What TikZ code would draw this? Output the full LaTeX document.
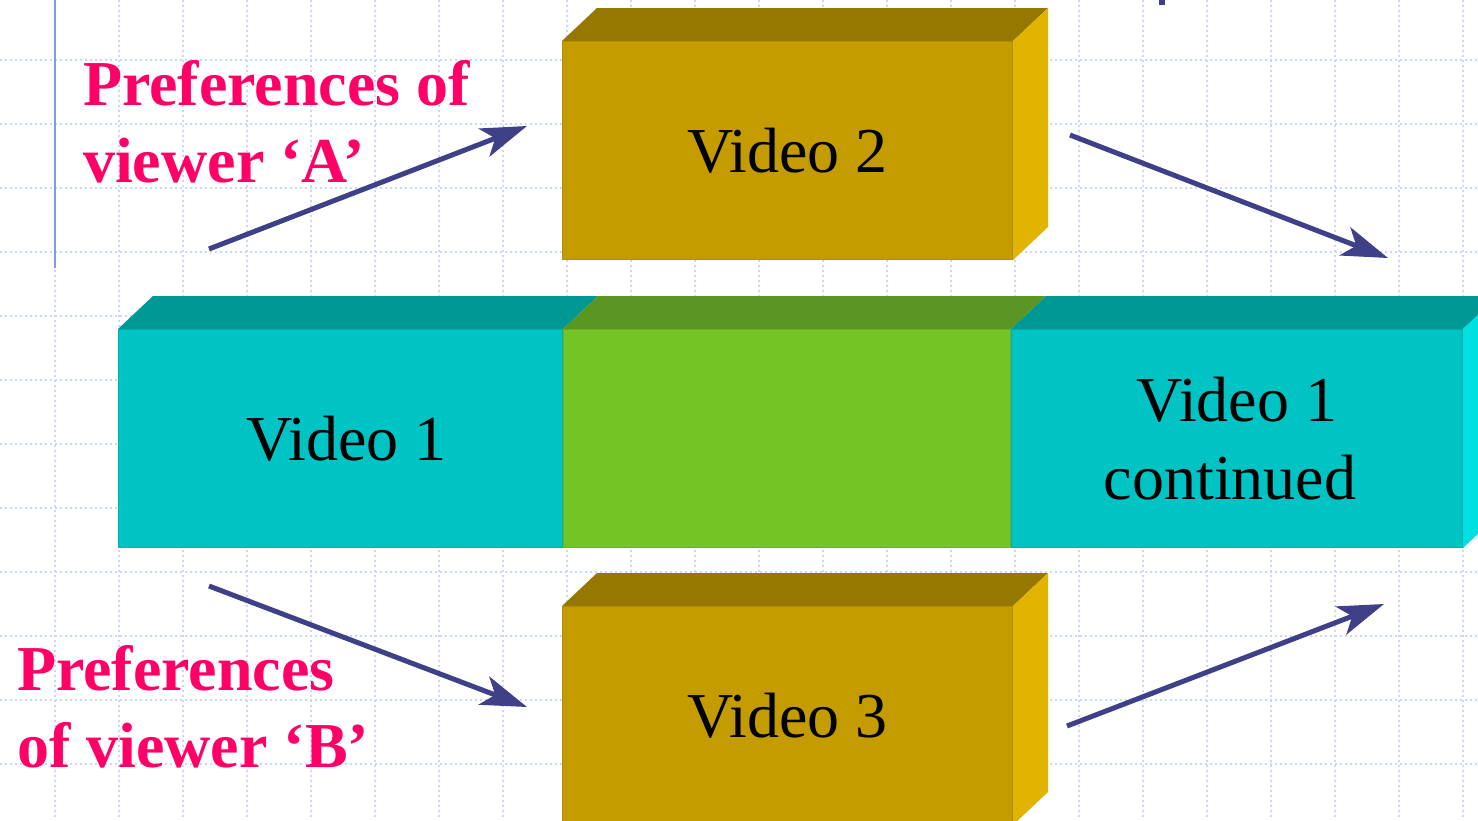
\documentclass[tikz,border=0pt]{standalone}
\usepackage{fontspec}
\setmainfont{Liberation Serif}
\usepackage{xcolor}
\usetikzlibrary{arrows.meta, positioning, calc}
\definecolor{vdGold}{RGB}{196,156,0}
\definecolor{vdGoldTop}{RGB}{150,120,0}
\definecolor{vdGoldSide}{RGB}{224,180,0}
\definecolor{vdCyan}{RGB}{0,196,196}
\definecolor{vdCyanTop}{RGB}{0,152,148}
\definecolor{vdCyanSide}{RGB}{0,224,224}
\definecolor{vdGreen}{RGB}{116,196,38}
\definecolor{vdGreenTop}{RGB}{92,150,34}
\definecolor{vdPink}{RGB}{255,0,102}
\definecolor{vdArrow}{RGB}{64,64,136}
\definecolor{vdGrid}{RGB}{200,214,248}
\definecolor{vdRule}{RGB}{128,152,240}

\begin{document}
\begin{tikzpicture}[x=1pt,y=-1pt,
  gridline/.style={draw=vdGrid,line width=1.5pt,dash pattern=on 2pt off 3pt},
  face/.style={anchor=north west,minimum height=218pt,inner sep=0pt,
               align=center,line width=1pt,
               font=\fontsize{64}{78}\selectfont},
  pref/.style={anchor=base west,inner sep=0pt,align=left,text=vdPink,
               font=\fontsize{64}{77}\selectfont\bfseries},
  flow/.style={draw=vdArrow,line width=5pt,
               -{Stealth[length=46pt,width=30pt,inset=12pt]}}]

\useasboundingbox (0,0) rectangle (1478,820);
\clip (0,0) rectangle (1478,820);
\fill[white] (0,0) rectangle (1478,820);

% ===== Background grid =====
\foreach \gy in {60,124,...,764}
  \draw[gridline] (0,\gy) -- (1478,\gy);
\foreach \gx in {55,119,...,1463}
  \draw[gridline] (\gx,0) -- (\gx,820);
\draw[vdRule,line width=2pt] (55,0) -- (55,268);
\fill[vdArrow] (1159,0) rectangle (1165,5);

% ===== Main timeline: Video 1 / insert / Video 1 continued =====
\node[face,fill=vdCyan,draw=vdCyan!90!black,minimum width=444pt] (seg1) at (118,329)
  {\raisebox{-6pt}{\hspace*{12pt}Video 1}};
\node[face,fill=vdGreen,draw=vdGreen!92!black,minimum width=447pt] (seg2) at (seg1.north east) {};
\node[face,fill=vdCyan,draw=vdCyan!90!black,minimum width=451pt] (seg3) at (seg2.north east)
  {Video 1\\continued\hspace*{14pt}};
\fill[vdCyanTop] (seg1.north west) -- (seg1.north east) -- ++(35,-33)
  -- ($(seg1.north west)+(35,-33)$) -- cycle;
\fill[vdGreenTop] (seg2.north west) -- (seg2.north east) -- ++(35,-33)
  -- ($(seg2.north west)+(35,-33)$) -- cycle;
\fill[vdCyanTop] (seg3.north west) -- (seg3.north east) -- ++(35,-33)
  -- ($(seg3.north west)+(35,-33)$) -- cycle;
\fill[vdCyanSide] (seg3.north east) -- ++(35,-33)
  -- ($(seg3.south east)+(35,-33)$) -- (seg3.south east) -- cycle;

% ===== Video 2 (upper branch) =====
\node[face,fill=vdGold,draw=vdGold!92!black,minimum width=450pt] (v2) at (562,41)
  {\raisebox{-6pt}{Video 2}};
\fill[vdGoldTop] (v2.north west) -- (v2.north east) -- ++(35,-33)
  -- ($(v2.north west)+(35,-33)$) -- cycle;
\fill[vdGoldSide] (v2.north east) -- ++(35,-33)
  -- ($(v2.south east)+(35,-33)$) -- (v2.south east) -- cycle;

% ===== Video 3 (lower branch) =====
\node[face,fill=vdGold,draw=vdGold!92!black,minimum width=450pt] (v3) at (562,606)
  {\raisebox{-6pt}{Video 3}};
\fill[vdGoldTop] (v3.north west) -- (v3.north east) -- ++(35,-33)
  -- ($(v3.north west)+(35,-33)$) -- cycle;
\fill[vdGoldSide] (v3.north east) -- ++(35,-33)
  -- ($(v3.south east)+(35,-33)$) -- (v3.south east) -- cycle;

% ===== Viewer labels (base = last line) =====
\node[pref] (prefA) at (83,182) {Preferences of\\viewer `A'};
\node[pref] (prefB) at (17,767) {Preferences\\of viewer `B'};

% ===== Branch arrows =====
\coordinate (aIn)   at (209,249);
\coordinate (aTip)  at (527,126);
\coordinate (aOut)  at (1070,135);
\coordinate (aBack) at (1388,258);
\coordinate (bIn)   at (209,586);
\coordinate (bTip)  at (527,707);
\coordinate (bOut)  at (1067,726);
\coordinate (bBack) at (1384,604);
\draw[flow] (aIn) -- (aTip);
\draw[flow] (aOut) -- (aBack);
\draw[flow] (bIn) -- (bTip);
\draw[flow] (bOut) -- (bBack);
\end{tikzpicture}
\end{document}
